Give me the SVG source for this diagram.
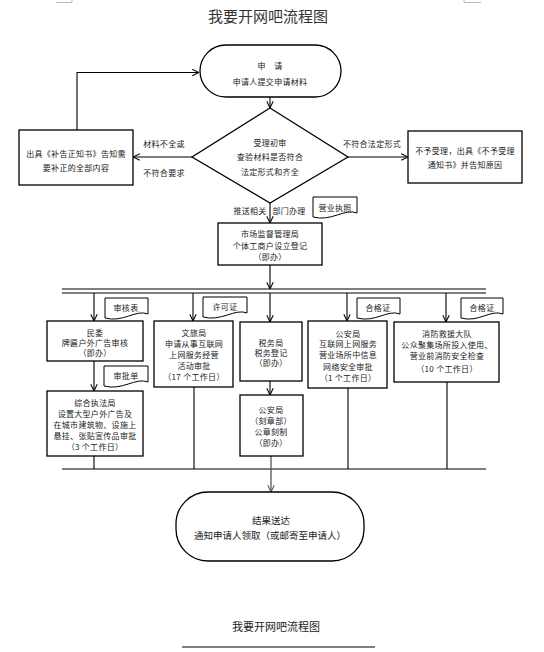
<svg xmlns="http://www.w3.org/2000/svg" width="544" height="652" viewBox="0 0 544 652">
<defs>
<style>
.t{font-family:"Noto Sans CJK SC","Noto Sans",sans-serif;font-size:8px;fill:#222;text-anchor:middle;dominant-baseline:central;letter-spacing:0.3px}
.big{font-size:9.5px;letter-spacing:0}
.title{font-family:"Noto Sans CJK SC","Noto Sans",sans-serif;font-size:15px;fill:#333;text-anchor:middle}
.foot{font-family:"Noto Sans CJK SC","Noto Sans",sans-serif;font-size:11px;fill:#222;text-anchor:middle}
.box{fill:#fff;stroke:#000;stroke-width:1.3}
.doc{fill:#fff;stroke:#000;stroke-width:1}
.ln{fill:none;stroke:#000;stroke-width:1.1}
.gl{fill:none;stroke:#555;stroke-width:1.3}
.mk{fill:none;stroke:#bbb;stroke-width:1}
</style>
<marker id="arr" viewBox="0 0 10 10" refX="9.5" refY="5" markerWidth="8" markerHeight="8" orient="auto" markerUnits="userSpaceOnUse"><path d="M1,1 L9.5,5 L1,9" fill="none" stroke="#000" stroke-width="1.3"/></marker>
<marker id="arrg" viewBox="0 0 10 10" refX="9.5" refY="5" markerWidth="8" markerHeight="8" orient="auto" markerUnits="userSpaceOnUse"><path d="M1,1 L9.5,5 L1,9" fill="none" stroke="#555" stroke-width="1.3"/></marker>
</defs>
<rect width="544" height="652" fill="#fff"/>
<g id="page-marks">
<path class="mk" d="M56,2.5 H72 V0"/>
<path class="mk" d="M481,2.5 H464 V0"/>
</g>
<text class="title" x="268" y="22">我要开网吧流程图</text>

<g id="connectors">
<path class="ln" d="M270,97 V108" marker-end="url(#arr)"/>
<path class="ln" d="M192,157 H133" marker-end="url(#arr)"/>
<path class="ln" d="M77,130 V72.5 H199" marker-end="url(#arr)"/>
<path class="ln" d="M348,157 H408" marker-end="url(#arr)"/>
<path class="ln" d="M270,203 V223" marker-end="url(#arr)"/>
<path class="ln" d="M270,265 V289" marker-end="url(#arr)"/>
<path class="ln" d="M62,289 H486 M62,293 H486"/>
<path class="ln" d="M94,293 V321" marker-end="url(#arr)"/>
<path class="ln" d="M193,293 V321" marker-end="url(#arr)"/>
<path class="ln" d="M270,293 V322" marker-end="url(#arr)"/>
<path class="ln" d="M347,293 V321" marker-end="url(#arr)"/>
<path class="ln" d="M446,293 V322" marker-end="url(#arr)"/>
<path class="ln" d="M94,361 V391" marker-end="url(#arr)"/>
<path class="ln" d="M270,381 V395" marker-end="url(#arr)"/>
<path class="ln" d="M94,456 V469 M194,387 V469 M348,388 V469 M447,382 V469 M62,469 H486"/>
<path class="gl" d="M271,456 V492" marker-end="url(#arrg)"/>
<text class="t" x="164" y="143">材料不全或</text>
<text class="t" x="164" y="172">不符合要求</text>
<text class="t" x="372" y="143">不符合法定形式</text>
<text class="t" x="250" y="210">推送相关</text>
<text class="t" x="289" y="210">部门办理</text>
</g>

<g id="apply">
<rect class="box" x="200" y="45" width="141" height="52" rx="26" ry="26"/>
<text class="t" x="270" y="65">申　请</text>
<text class="t" x="270" y="81">申请人提交申请材料</text>
</g>

<g id="review">
<path class="box" d="M270,108 L348,157 L270,203 L192,157 Z"/>
<text class="t" x="270" y="142">受理初审</text>
<text class="t" x="270" y="156">查验材料是否符合</text>
<text class="t" x="270" y="171">法定形式和齐全</text>
</g>

<g id="supplement">
<rect class="box" x="19" y="130" width="114" height="55"/>
<text class="t" x="76" y="153">出具《补告正知书》告知需</text>
<text class="t" x="76" y="167">要补正的全部内容</text>
</g>

<g id="reject">
<rect class="box" x="408" y="131" width="114" height="52"/>
<text class="t" x="465" y="150">不予受理，出具《不予受理</text>
<text class="t" x="465" y="164">通知书》并告知原因</text>
</g>

<g id="license-doc">
<path class="doc" d="M313,197 h44 v16 c-12,-5 -26,9 -44,4 z"/>
<text class="t" x="335" y="207">营业执照</text>
</g>

<g id="market">
<rect class="box" x="218" y="223" width="104" height="42"/>
<text class="t" x="270" y="233">市场监督管理局</text>
<text class="t" x="270" y="245">个体工商户设立登记</text>
<text class="t" x="270" y="256">（即办）</text>
</g>

<g id="doc-shenhebiao">
<path class="doc" d="M105,298 h43 v16 c-12,-5 -25,9 -43,4 z"/>
<text class="t" x="126" y="307">审核表</text>
</g>
<g id="doc-xukezheng">
<path class="doc" d="M203,297 h44 v16 c-12,-5 -26,9 -44,4 z"/>
<text class="t" x="225" y="306">许可证</text>
</g>
<g id="doc-hegezheng1">
<path class="doc" d="M357,298 h43 v16 c-12,-5 -25,9 -43,4 z"/>
<text class="t" x="378" y="307">合格证</text>
</g>
<g id="doc-hegezheng2">
<path class="doc" d="M461,298 h42 v16 c-12,-5 -25,9 -42,4 z"/>
<text class="t" x="482" y="307">合格证</text>
</g>
<g id="doc-shenpidan">
<path class="doc" d="M104,366 h44 v16 c-12,-5 -26,9 -44,4 z"/>
<text class="t" x="126" y="375">审批单</text>
</g>

<g id="minwei">
<rect class="box" x="47" y="321" width="96" height="40"/>
<text class="t" x="95" y="332">民委</text>
<text class="t" x="95" y="342">牌匾户外广告审核</text>
<text class="t" x="95" y="352">（即办）</text>
</g>

<g id="wenlv">
<rect class="box" x="154" y="321" width="79" height="66"/>
<text class="t" x="194" y="332">文旅局</text>
<text class="t" x="194" y="343">申请从事互联网</text>
<text class="t" x="194" y="354">上网服务经营</text>
<text class="t" x="194" y="365">活动审批</text>
<text class="t" x="194" y="376">（17 个工作日）</text>
</g>

<g id="tax">
<rect class="box" x="240" y="322" width="62" height="59"/>
<text class="t" x="271" y="342">税务局</text>
<text class="t" x="271" y="352">税务登记</text>
<text class="t" x="271" y="362">（即办）</text>
</g>

<g id="police-net">
<rect class="box" x="308" y="321" width="79" height="67"/>
<text class="t" x="348" y="333">公安局</text>
<text class="t" x="348" y="343">互联网上网服务</text>
<text class="t" x="348" y="354">营业场所中信息</text>
<text class="t" x="348" y="366">网络安全审批</text>
<text class="t" x="348" y="377">（1 个工作日）</text>
</g>

<g id="fire">
<rect class="box" x="394" y="322" width="105" height="60"/>
<text class="t" x="447" y="333">消防救援大队</text>
<text class="t" x="447" y="344">公众聚集场所投入使用、</text>
<text class="t" x="447" y="355">营业前消防安全检查</text>
<text class="t" x="447" y="368">（10 个工作日）</text>
</g>

<g id="enforce">
<rect class="box" x="47" y="391" width="96" height="65"/>
<text class="t" x="95" y="402">综合执法局</text>
<text class="t" x="95" y="413">设置大型户外广告及</text>
<text class="t" x="95" y="424">在城市建筑物、设施上</text>
<text class="t" x="95" y="435">悬挂、张贴宣传品审批</text>
<text class="t" x="95" y="446">（3 个工作日）</text>
</g>

<g id="police-seal">
<rect class="box" x="240" y="395" width="63" height="61"/>
<text class="t" x="271" y="409">公安局</text>
<text class="t" x="271" y="420">（刻章部）</text>
<text class="t" x="271" y="431">公章刻制</text>
<text class="t" x="271" y="442">（即办）</text>
</g>

<g id="result">
<rect class="box" x="176" y="492" width="188" height="69" rx="32" ry="32"/>
<text class="t big" x="271" y="520">结果送达</text>
<text class="t big" x="270" y="535">通知申请人领取（或邮寄至申请人）</text>
</g>

<text class="foot" x="276" y="631">我要开网吧流程图</text>
<path class="ln" d="M182,647 H375"/>
</svg>
